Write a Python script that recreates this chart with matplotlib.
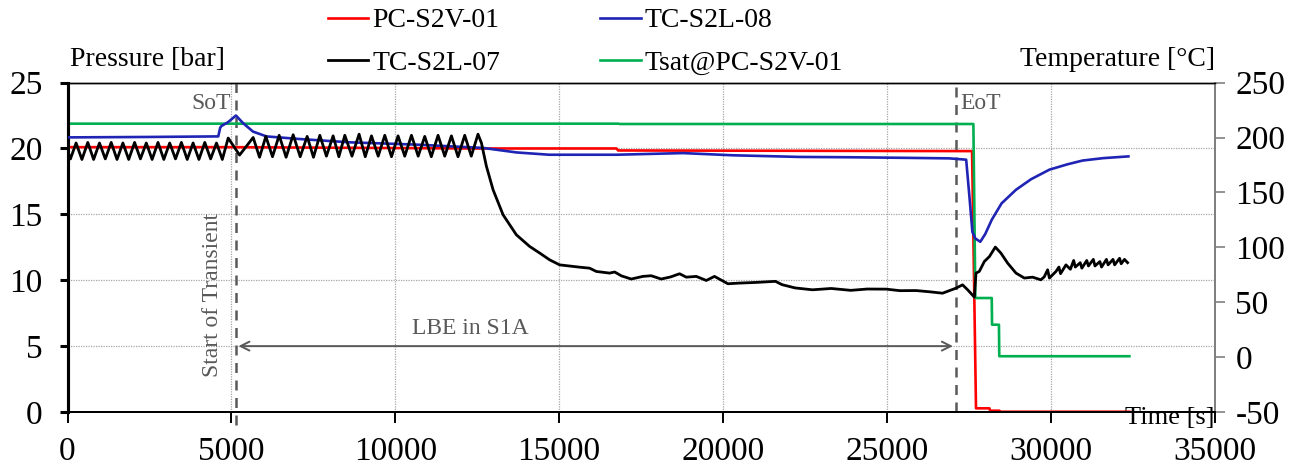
import numpy as np
import matplotlib
matplotlib.use("Agg")
import matplotlib.pyplot as plt

plt.rcParams['font.family'] = ['Liberation Serif', 'DejaVu Serif']
plt.rcParams['axes.unicode_minus'] = False

# --- data ---
red_t = [0, 5000, 12500, 16750, 16800, 27600, 27720, 28130, 28150, 28430, 28450, 32400]
red_p = [20.1, 20.1, 20.0, 20.0, 19.85, 19.8, 0.28, 0.28, 0.1, 0.1, 0.02, 0.02]

blue_t = [0, 2500, 4600, 4660, 4700, 4900, 5140, 5360, 5660, 6070, 7090, 8610, 10650,
          12680, 13700, 14700, 16750, 18780, 20300, 22340, 23870, 25500, 26900, 27420,
          27520, 27610, 27700, 27850, 28000, 28200, 28500, 28940, 29400, 29960, 30500,
          30970, 31600, 32370]
blue_T = [200.1, 200.5, 201.0, 209, 210.5, 214, 220, 213, 205.4, 201, 198.6, 195.6, 193.5,
          190.5, 186.4, 184.3, 184.3, 185.8, 183.8, 182.3, 182, 181.5, 181, 179.8,
          146, 114, 108, 105, 112, 125, 140, 152.4, 162, 170.7, 175.5,
          179, 181.2, 182.8]

black_t = [0, 90, 262, 440, 619, 797, 976, 1154, 1333, 1511, 1690, 1868, 2047, 2225, 2404,
           2582, 2761, 2939, 3118, 3296, 3475, 3653, 3832, 4010, 4189, 4367, 4546, 4724,
           4903, 5250, 5665, 5860, 6052, 6255, 6458, 6670, 6885, 7100, 7312, 7505, 7699,
           7900, 8104, 8280, 8461, 8680, 8897, 9085, 9275, 9480, 9681, 9885, 10086, 10290,
           10495, 10700, 10900, 11100, 11306, 11510, 11714, 11915, 12120, 12320, 12525,
           12630, 12780, 12985, 13290, 13695, 14100, 14410, 14710, 15015, 15625, 15930,
           16135, 16540, 16695, 16900, 17200, 17555, 17810, 18115, 18400, 18675, 18880,
           19185, 19490, 19740, 20150, 20500, 21000, 21600, 21800, 22200, 22730, 23300,
           23900, 24400, 24980, 25400, 25890, 26300, 26700, 27110, 27310, 27465, 27670,
           27720, 27820, 27975, 28130, 28310, 28480, 28685, 28940, 29195, 29445, 29700,
           29800, 29905, 29960, 30160, 30250, 30300, 30465, 30600, 30700, 30750, 30900,
           30950, 31100, 31150, 31300, 31350, 31500, 31550, 31700, 31750, 31900, 31950,
           32100, 32150, 32250, 32345]
black_T = [188, 180.5, 195, 180, 195.5, 180, 195, 180.5, 195.5, 180, 195, 180, 195.5, 180.5, 195,
           180, 195.5, 180, 195, 180.5, 195.5, 180, 195, 180, 195.5, 180.5, 195, 180,
           199.5, 184, 200, 182, 201, 182.5, 202, 182, 202.5, 182.5, 201, 182, 202,
           183, 201.5, 182.5, 202, 183, 203, 182.5, 201.5, 183, 202, 182.5, 201.5, 183,
           202, 183, 201, 182.5, 202, 183, 201.5, 182.5, 202, 183, 203,
           195, 174, 152.4, 129.6, 111.4, 100.8, 94.7, 88.6, 84, 81.9, 81,
           78, 76.5, 77.5, 74, 71.1, 73.5, 74.1, 71.1, 73, 75.9, 72.8,
           73.5, 69.8, 73.5, 66.8, 67.4, 68, 69, 66, 63, 61.3, 62.5,
           60.8, 62, 61.9, 60.5, 60.6, 59.5, 58.2, 62.8, 65.8, 61.3, 54.6,
           76.5, 78, 87.1, 91.6, 100.2, 94.7, 85.6, 76.5, 72, 72.8, 70.4,
           73, 79.5, 72, 78, 82, 76, 84, 80, 88, 82, 86,
           81, 88, 83, 89, 83, 87, 82, 89, 84, 89, 84,
           90, 85, 89, 86]

green_t = [0, 16800, 16850, 27640, 27700, 28200, 28210, 28420, 28430, 32400]
green_T = [212.6, 212.6, 212.3, 212.3, 53.8, 53.8, 29.5, 29.5, 0.8, 0.8]

sot_time = 5130
eot_time = 27100
labels = ['PC-S2V-01', 'TC-S2L-07', 'TC-S2L-08', 'Tsat@PC-S2V-01']

gray = '#595959'
W, H = 1303, 467
fig = plt.figure(figsize=(W / 100, H / 100), dpi=100)
ax = fig.add_axes([67.5 / W, 1 - 412 / H, (1214.6 - 67.5) / W, (412 - 82.6) / H])
ax2 = ax.twinx()

l_red, = ax.plot(red_t, red_p, color='#FF0000', lw=1.9, zorder=3)
l_blue, = ax2.plot(blue_t, blue_T, color='#1F24B4', lw=1.9, zorder=3)
l_black, = ax2.plot(black_t, black_T, color='black', lw=2.0, zorder=4)
l_green, = ax2.plot(green_t, green_T, color='#00B050', lw=1.9, zorder=2)

ax.set_xlim(0, 35000)
ax.set_ylim(0, 25)
ax2.set_ylim(-50, 250)
ax.set_xticks(np.arange(0, 35001, 5000))
ax.set_yticks(np.arange(0, 26, 5))
ax2.set_yticks(np.arange(-50, 251, 50))

ax.grid(True, color='#A6A6A6', ls=(0, (1, 1)), lw=0.9)
ax.set_axisbelow(True)

for a in (ax, ax2):
    a.spines['top'].set_linewidth(1.0)
    a.spines['left'].set_linewidth(2.2)
    a.spines['bottom'].set_linewidth(1.4)
    a.spines['right'].set_color('#808080')
    a.spines['right'].set_linewidth(1.4)

ax.tick_params(axis='x', direction='out', length=8, width=1.4, labelsize=24, pad=10)
ax.tick_params(axis='y', direction='out', length=6, width=2.2, labelsize=24, pad=12)
ax2.tick_params(axis='y', direction='out', length=7, width=1.2, color='#808080',
                labelsize=24, pad=8)

# reference lines and annotations
ax.axvline(sot_time, ymin=-0.04, ymax=1, color=gray, ls=(0, (4, 3)), lw=1.8,
           clip_on=False, zorder=5)
ax.axvline(eot_time, ymin=0, ymax=1, color=gray, ls=(0, (4, 3)), lw=1.8, zorder=5)
ax.text(sot_time - 150, 23.4, 'SoT', ha='right', va='center', color=gray, fontsize=17)
ax.text(eot_time + 150, 23.4, 'EoT', ha='left', va='center', color=gray, fontsize=17)
ax.text(sot_time - 700, 8.9, 'Start of Transient', rotation=90, ha='center', va='center',
        color=gray, fontsize=17)
ax.annotate('', xy=(eot_time, 5), xytext=(sot_time, 5),
            arrowprops=dict(arrowstyle='<->', color=gray, lw=1.4, mutation_scale=16))
ax.text(12300, 6.3, 'LBE in S1A', ha='center', va='center', color=gray, fontsize=17)
ax.text(35000, -0.45, 'Time [s]', ha='right', va='center', fontsize=19, zorder=6)

fig.text(70 / W, 1 - 60 / H, 'Pressure [bar]', ha='left', va='center', fontsize=20)
fig.text(1215 / W, 1 - 60 / H, 'Temperature [°C]', ha='right', va='center', fontsize=20)

fig.legend([l_red, l_black, l_blue, l_green], labels, ncol=2, frameon=False,
           loc='upper left', bbox_to_anchor=(328 / W, 1 - 8 / H), fontsize=20,
           borderpad=0, borderaxespad=0, handlelength=1.45, handletextpad=0.15,
           columnspacing=3.6, labelspacing=0.6)

fig.savefig('out.png', dpi=100)
